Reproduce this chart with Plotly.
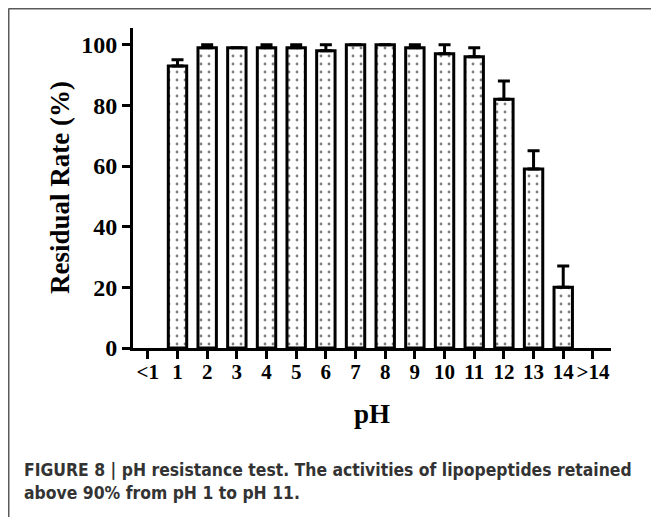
import plotly.graph_objects as go

categories = ["<1", "1", "2", "3", "4", "5", "6", "7", "8", "9", "10", "11", "12", "13", "14", ">14"]
# no measurable residual activity drawn outside pH 1-14
residual_rate = [None, 93, 99, 99, 99, 99, 98, 100, 100, 99, 97, 96, 82, 59, 20, None]
error_up = [None, 2, 1, 0, 1, 1, 2, 0, 0, 1, 3, 3, 6, 6, 7, None]
y_ticks = [0, 20, 40, 60, 80, 100]

# page body has an 8px margin; figure sized so it fits in the 659x517 window
OFF = 8
W, H = 659 - OFF, 517 - OFF
# plot area in screen pixels: x 133..611, y 28..348
L = 133 - OFF
T = 28 - OFF
R = W - (611 - OFF)
B = H - (348 - OFF)
pw, ph = W - L - R, H - T - B

def px_x(p):  # screen pixel -> paper
    return (p - OFF - L) / pw

def px_y(p):
    return (H - B - (p - OFF)) / ph

xs = list(range(len(categories)))

fig = go.Figure()
fig.add_trace(go.Bar(
    x=xs, y=residual_rate, width=0.62,
    marker=dict(color="white",
                line=dict(color="black", width=3),
                pattern=dict(shape=".", fgcolor="black", bgcolor="white", size=8, solidity=0.1)),
    error_y=dict(type="data", symmetric=False, array=error_up,
                 arrayminus=[0 if e is not None else None for e in error_up],
                 color="black", thickness=3, width=6),
    showlegend=False,
))

serif = "Liberation Serif"
fig.update_layout(
    width=W, height=H,
    margin=dict(l=L, r=R, t=T, b=B, autoexpand=False),
    plot_bgcolor="white", paper_bgcolor="white",
    font=dict(family=serif, color="black"),
    xaxis=dict(
        range=[-0.5, 15.61], tickmode="array", tickvals=xs, ticktext=categories,
        tickangle=0, automargin=False, ticklabelstandoff=-5,
        showline=True, linecolor="black", linewidth=3,
        ticks="outside", ticklen=8, tickwidth=2.5, tickcolor="black",
        tickfont=dict(family=serif, size=21, color="black", weight="bold"),
        showgrid=False, zeroline=False,
    ),
    yaxis=dict(
        range=[0, 105.5], tickmode="array", tickvals=y_ticks, automargin=False,
        showline=True, linecolor="black", linewidth=3,
        ticks="outside", ticklen=8, tickwidth=2.5, tickcolor="black",
        tickfont=dict(family=serif, size=24, color="black", weight="bold"),
        showgrid=False, zeroline=False,
    ),
)

fig.add_annotation(text="<b>Residual Rate (%)</b>", xref="paper", yref="paper",
                   x=px_x(60), y=px_y(188), xanchor="center", yanchor="middle",
                   textangle=-90, showarrow=False,
                   font=dict(family=serif, size=27, color="black"))
fig.add_annotation(text="<b>pH</b>", xref="paper", yref="paper",
                   x=px_x(372), y=px_y(414), xanchor="center", yanchor="middle",
                   showarrow=False,
                   font=dict(family=serif, size=27, color="black"))
fig.add_annotation(text="<b>FIGURE 8 | pH resistance test. The activities of lipopeptides retained<br>above 90% from pH 1 to pH 11.</b>",
                   xref="paper", yref="paper", x=px_x(22), y=px_y(458),
                   xanchor="left", yanchor="top", align="left", showarrow=False,
                   font=dict(family="Liberation Sans Narrow, Arial Narrow, DejaVu Sans Condensed, sans-serif",
                             size=17.4, color="#333333"))

# figure frame (top and left edges)
fig.add_shape(type="line", xref="paper", yref="paper",
              x0=px_x(8.5), y0=px_y(8.5), x1=px_x(700), y1=px_y(8.5),
              line=dict(color="#5a5a5a", width=2))
fig.add_shape(type="line", xref="paper", yref="paper",
              x0=px_x(8.5), y0=px_y(8.5), x1=px_x(8.5), y1=px_y(560),
              line=dict(color="#5a5a5a", width=2))

fig.write_html("out.html")
